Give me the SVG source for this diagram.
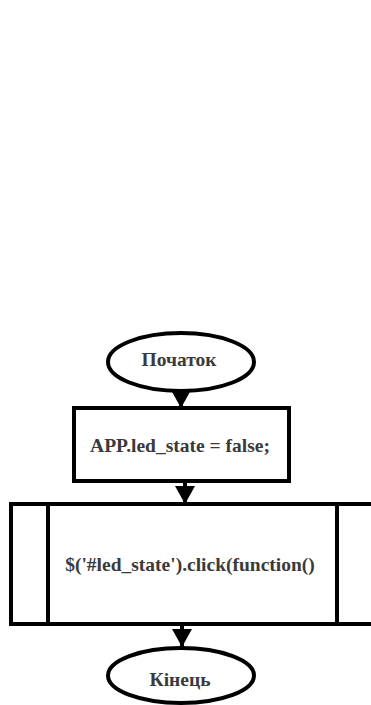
<svg xmlns="http://www.w3.org/2000/svg" width="371" height="705" viewBox="0 0 371 705">
<defs>
<style>
.s{fill:#fff;stroke:#000;stroke-width:4}
.t{font-family:'Liberation Serif',serif;font-weight:700;font-size:19.5px;fill:#3a3a3a;text-anchor:middle}
.c{stroke:#000;stroke-width:4;fill:none}
</style>
<marker id="a" markerWidth="5" markerHeight="5" refX="4.5" refY="2.5" orient="auto" markerUnits="strokeWidth">
<path d="M0,0 L4.5,2.5 L0,5 Z" fill="#000"/>
</marker>
</defs>
<g id="connectors">
<line class="c" x1="181" y1="391" x2="181" y2="408" marker-end="url(#a)"/>
<line class="c" x1="185" y1="481" x2="185" y2="504" marker-end="url(#a)"/>
<line class="c" x1="182" y1="624" x2="182" y2="647" marker-end="url(#a)"/>
</g>
<g id="start">
<ellipse class="s" cx="181" cy="362" rx="73" ry="29"/>
<text class="t" x="179" y="366">Початок</text>
</g>
<g id="assign">
<rect class="s" x="74" y="408" width="215" height="73"/>
<text class="t" x="180" y="452">APP.led_state = false;</text>
</g>
<g id="subprocess">
<rect class="s" x="11" y="504" width="370" height="120"/>
<line class="c" x1="48" y1="504" x2="48" y2="624"/>
<line class="c" x1="337" y1="504" x2="337" y2="624"/>
<text class="t" x="190" y="571">$('#led_state').click(function()</text>
</g>
<g id="end">
<ellipse class="s" cx="181" cy="675.5" rx="73" ry="27.5"/>
<text class="t" x="180" y="686">Кінець</text>
</g>
</svg>
